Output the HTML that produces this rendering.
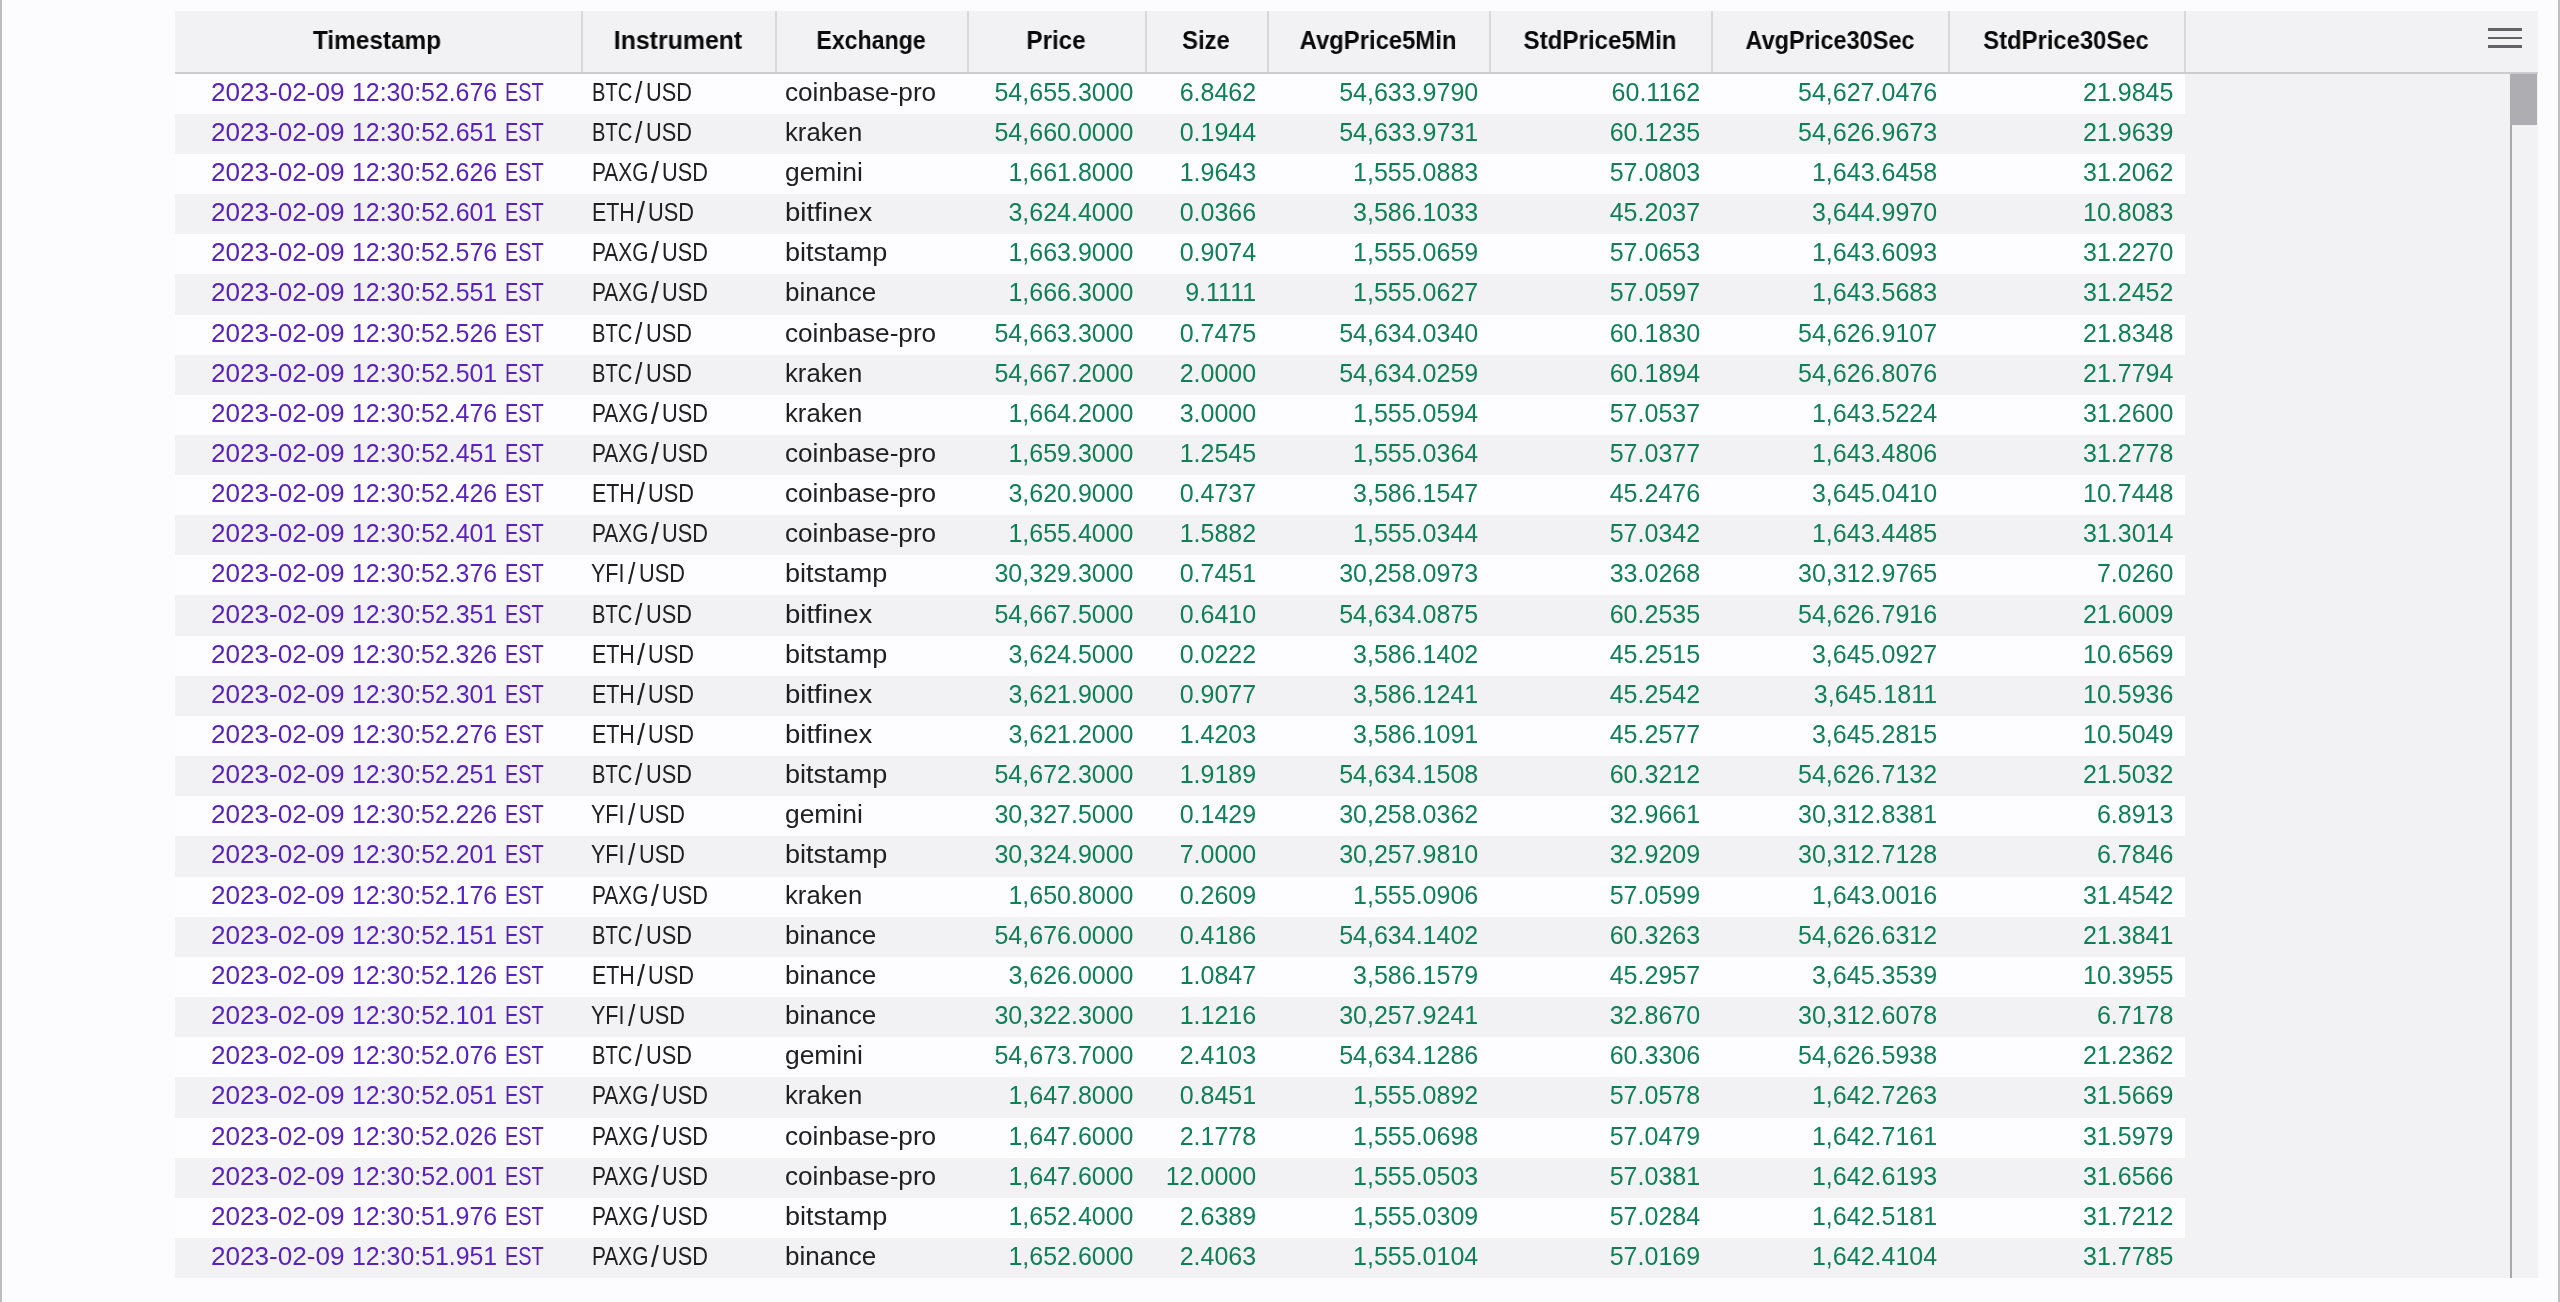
<!DOCTYPE html>
<html><head><meta charset="utf-8"><style>
*{margin:0;padding:0;box-sizing:border-box}
html,body{width:2560px;height:1302px;overflow:hidden}
body{background:#fcfbfd;font-family:"Liberation Sans",sans-serif;position:relative}
.a{position:absolute}
.hd{position:absolute;will-change:transform;top:28.3px;font-weight:bold;font-size:25px;color:#0a0a0a;line-height:25px;white-space:nowrap}
.r{position:absolute;will-change:transform;left:175px;width:2010.4px;height:40.15px}
.c{position:absolute;top:6px;font-size:25px;line-height:25px;white-space:nowrap;transform-origin:0 0}
.t{color:#5822c2}
.s{color:#202020}
.n{color:#0f7f55;transform-origin:100% 0}
.hl{position:absolute;top:11px;width:2px;height:61px;background:#d8d7d9}
.hb{position:absolute;left:0;width:34px;height:2.3px;background:#636266}
</style></head><body>
<div class="a" style="left:0;top:0;width:2px;height:1302px;background:#bcbdbc"></div>
<div class="a" style="left:2px;top:0;width:1px;height:1302px;background:#ffffff"></div>
<div class="a" style="left:2558px;top:0;width:2px;height:1302px;background:#bdbebd"></div>
<div class="a" style="left:175px;top:11px;width:2362.7px;height:1266.6px;background:#f2f1f3"></div>
<div class="a" style="left:175px;top:72px;width:2362.7px;height:2px;background:#cdcbce"></div>

<div class="hd" style="left:377.45px;transform:translateX(-50%) scaleX(0.9744)">Timestamp</div>
<div class="hd" style="left:677.80px;transform:translateX(-50%) scaleX(0.9948)">Instrument</div>
<div class="hd" style="left:871.00px;transform:translateX(-50%) scaleX(0.9244)">Exchange</div>
<div class="hd" style="left:1055.90px;transform:translateX(-50%) scaleX(0.9688)">Price</div>
<div class="hd" style="left:1206.00px;transform:translateX(-50%) scaleX(0.9552)">Size</div>
<div class="hd" style="left:1378.35px;transform:translateX(-50%) scaleX(0.9536)">AvgPrice5Min</div>
<div class="hd" style="left:1600.35px;transform:translateX(-50%) scaleX(0.9664)">StdPrice5Min</div>
<div class="hd" style="left:1829.80px;transform:translateX(-50%) scaleX(0.9408)">AvgPrice30Sec</div>
<div class="hd" style="left:2066.45px;transform:translateX(-50%) scaleX(0.9528)">StdPrice30Sec</div>
<div class="hl" style="left:580.50px"></div>
<div class="hl" style="left:774.70px"></div>
<div class="hl" style="left:966.90px"></div>
<div class="hl" style="left:1144.50px"></div>
<div class="hl" style="left:1267.10px"></div>
<div class="hl" style="left:1489.20px"></div>
<div class="hl" style="left:1711.10px"></div>
<div class="hl" style="left:1948.10px"></div>
<div class="hl" style="left:2184.40px"></div>
<div class="r" style="top:73.600px;background:#fdfcfe"><span class="c t" style="left:35.79px;transform:scaleX(1.0446)">2023-02-09</span><span class="c t" style="left:177.14px;transform:scaleX(0.9937)">12:30:52.676</span><span class="c t" style="left:330.30px;transform:scaleX(0.7978)">EST</span><span class="c s" style="left:416.89px;transform:scaleX(0.8043)">BTC</span><span class="c s" style="left:460.20px;transform-origin:0 12.4px;transform:scale(1.0618,1.2170)">/</span><span class="c s" style="left:471.27px;transform:scaleX(0.8704)">USD</span><span class="c s" style="left:610.42px;transform:scaleX(1.0458)">coinbase-pro</span><span class="c n" style="right:1051.90px">54,655.3000</span><span class="c n" style="right:929.30px">6.8462</span><span class="c n" style="right:707.20px">54,633.9790</span><span class="c n" style="right:485.30px">60.1162</span><span class="c n" style="right:248.30px">54,627.0476</span><span class="c n" style="right:12.00px">21.9845</span></div>
<div class="r" style="top:113.750px;background:#f2f1f3"><span class="c t" style="left:35.79px;transform:scaleX(1.0446)">2023-02-09</span><span class="c t" style="left:177.14px;transform:scaleX(0.9946)">12:30:52.651</span><span class="c t" style="left:330.30px;transform:scaleX(0.7978)">EST</span><span class="c s" style="left:416.89px;transform:scaleX(0.8043)">BTC</span><span class="c s" style="left:460.20px;transform-origin:0 12.4px;transform:scale(1.0618,1.2170)">/</span><span class="c s" style="left:471.27px;transform:scaleX(0.8704)">USD</span><span class="c s" style="left:610.33px;transform:scaleX(1.0286)">kraken</span><span class="c n" style="right:1051.90px">54,660.0000</span><span class="c n" style="right:929.30px">0.1944</span><span class="c n" style="right:707.20px">54,633.9731</span><span class="c n" style="right:485.30px">60.1235</span><span class="c n" style="right:248.30px">54,626.9673</span><span class="c n" style="right:12.00px">21.9639</span></div>
<div class="r" style="top:153.900px;background:#fdfcfe"><span class="c t" style="left:35.79px;transform:scaleX(1.0446)">2023-02-09</span><span class="c t" style="left:177.14px;transform:scaleX(0.9937)">12:30:52.626</span><span class="c t" style="left:330.30px;transform:scaleX(0.7978)">EST</span><span class="c s" style="left:416.83px;transform:scaleX(0.8345)">PAXG</span><span class="c s" style="left:475.70px;transform-origin:0 12.4px;transform:scale(1.1345,1.2170)">/</span><span class="c s" style="left:486.87px;transform:scaleX(0.8704)">USD</span><span class="c s" style="left:610.24px;transform:scaleX(1.0563)">gemini</span><span class="c n" style="right:1051.90px">1,661.8000</span><span class="c n" style="right:929.30px">1.9643</span><span class="c n" style="right:707.20px">1,555.0883</span><span class="c n" style="right:485.30px">57.0803</span><span class="c n" style="right:248.30px">1,643.6458</span><span class="c n" style="right:12.00px">31.2062</span></div>
<div class="r" style="top:194.050px;background:#f2f1f3"><span class="c t" style="left:35.79px;transform:scaleX(1.0446)">2023-02-09</span><span class="c t" style="left:177.14px;transform:scaleX(0.9946)">12:30:52.601</span><span class="c t" style="left:330.30px;transform:scaleX(0.7978)">EST</span><span class="c s" style="left:416.79px;transform:scaleX(0.8565)">ETH</span><span class="c s" style="left:462.30px;transform-origin:0 12.4px;transform:scale(1.1491,1.2170)">/</span><span class="c s" style="left:473.46px;transform:scaleX(0.8724)">USD</span><span class="c s" style="left:609.71px;transform:scaleX(1.1011)">bitfinex</span><span class="c n" style="right:1051.90px">3,624.4000</span><span class="c n" style="right:929.30px">0.0366</span><span class="c n" style="right:707.20px">3,586.1033</span><span class="c n" style="right:485.30px">45.2037</span><span class="c n" style="right:248.30px">3,644.9970</span><span class="c n" style="right:12.00px">10.8083</span></div>
<div class="r" style="top:234.200px;background:#fdfcfe"><span class="c t" style="left:35.79px;transform:scaleX(1.0446)">2023-02-09</span><span class="c t" style="left:177.14px;transform:scaleX(0.9937)">12:30:52.576</span><span class="c t" style="left:330.30px;transform:scaleX(0.7978)">EST</span><span class="c s" style="left:416.83px;transform:scaleX(0.8345)">PAXG</span><span class="c s" style="left:475.70px;transform-origin:0 12.4px;transform:scale(1.1345,1.2170)">/</span><span class="c s" style="left:486.87px;transform:scaleX(0.8704)">USD</span><span class="c s" style="left:610.34px;transform:scaleX(1.0819)">bitstamp</span><span class="c n" style="right:1051.90px">1,663.9000</span><span class="c n" style="right:929.30px">0.9074</span><span class="c n" style="right:707.20px">1,555.0659</span><span class="c n" style="right:485.30px">57.0653</span><span class="c n" style="right:248.30px">1,643.6093</span><span class="c n" style="right:12.00px">31.2270</span></div>
<div class="r" style="top:274.350px;background:#f2f1f3"><span class="c t" style="left:35.79px;transform:scaleX(1.0446)">2023-02-09</span><span class="c t" style="left:177.14px;transform:scaleX(0.9946)">12:30:52.551</span><span class="c t" style="left:330.30px;transform:scaleX(0.7978)">EST</span><span class="c s" style="left:416.83px;transform:scaleX(0.8345)">PAXG</span><span class="c s" style="left:475.70px;transform-origin:0 12.4px;transform:scale(1.1345,1.2170)">/</span><span class="c s" style="left:486.87px;transform:scaleX(0.8704)">USD</span><span class="c s" style="left:610.41px;transform:scaleX(1.0419)">binance</span><span class="c n" style="right:1051.90px">1,666.3000</span><span class="c n" style="right:929.30px">9.1111</span><span class="c n" style="right:707.20px">1,555.0627</span><span class="c n" style="right:485.30px">57.0597</span><span class="c n" style="right:248.30px">1,643.5683</span><span class="c n" style="right:12.00px">31.2452</span></div>
<div class="r" style="top:314.500px;background:#fdfcfe"><span class="c t" style="left:35.79px;transform:scaleX(1.0446)">2023-02-09</span><span class="c t" style="left:177.14px;transform:scaleX(0.9937)">12:30:52.526</span><span class="c t" style="left:330.30px;transform:scaleX(0.7978)">EST</span><span class="c s" style="left:416.89px;transform:scaleX(0.8043)">BTC</span><span class="c s" style="left:460.20px;transform-origin:0 12.4px;transform:scale(1.0618,1.2170)">/</span><span class="c s" style="left:471.27px;transform:scaleX(0.8704)">USD</span><span class="c s" style="left:610.42px;transform:scaleX(1.0458)">coinbase-pro</span><span class="c n" style="right:1051.90px">54,663.3000</span><span class="c n" style="right:929.30px">0.7475</span><span class="c n" style="right:707.20px">54,634.0340</span><span class="c n" style="right:485.30px">60.1830</span><span class="c n" style="right:248.30px">54,626.9107</span><span class="c n" style="right:12.00px">21.8348</span></div>
<div class="r" style="top:354.650px;background:#f2f1f3"><span class="c t" style="left:35.79px;transform:scaleX(1.0446)">2023-02-09</span><span class="c t" style="left:177.14px;transform:scaleX(0.9946)">12:30:52.501</span><span class="c t" style="left:330.30px;transform:scaleX(0.7978)">EST</span><span class="c s" style="left:416.89px;transform:scaleX(0.8043)">BTC</span><span class="c s" style="left:460.20px;transform-origin:0 12.4px;transform:scale(1.0618,1.2170)">/</span><span class="c s" style="left:471.27px;transform:scaleX(0.8704)">USD</span><span class="c s" style="left:610.33px;transform:scaleX(1.0286)">kraken</span><span class="c n" style="right:1051.90px">54,667.2000</span><span class="c n" style="right:929.30px">2.0000</span><span class="c n" style="right:707.20px">54,634.0259</span><span class="c n" style="right:485.30px">60.1894</span><span class="c n" style="right:248.30px">54,626.8076</span><span class="c n" style="right:12.00px">21.7794</span></div>
<div class="r" style="top:394.800px;background:#fdfcfe"><span class="c t" style="left:35.79px;transform:scaleX(1.0446)">2023-02-09</span><span class="c t" style="left:177.14px;transform:scaleX(0.9937)">12:30:52.476</span><span class="c t" style="left:330.30px;transform:scaleX(0.7978)">EST</span><span class="c s" style="left:416.83px;transform:scaleX(0.8345)">PAXG</span><span class="c s" style="left:475.70px;transform-origin:0 12.4px;transform:scale(1.1345,1.2170)">/</span><span class="c s" style="left:486.87px;transform:scaleX(0.8704)">USD</span><span class="c s" style="left:610.33px;transform:scaleX(1.0286)">kraken</span><span class="c n" style="right:1051.90px">1,664.2000</span><span class="c n" style="right:929.30px">3.0000</span><span class="c n" style="right:707.20px">1,555.0594</span><span class="c n" style="right:485.30px">57.0537</span><span class="c n" style="right:248.30px">1,643.5224</span><span class="c n" style="right:12.00px">31.2600</span></div>
<div class="r" style="top:434.950px;background:#f2f1f3"><span class="c t" style="left:35.79px;transform:scaleX(1.0446)">2023-02-09</span><span class="c t" style="left:177.14px;transform:scaleX(0.9946)">12:30:52.451</span><span class="c t" style="left:330.30px;transform:scaleX(0.7978)">EST</span><span class="c s" style="left:416.83px;transform:scaleX(0.8345)">PAXG</span><span class="c s" style="left:475.70px;transform-origin:0 12.4px;transform:scale(1.1345,1.2170)">/</span><span class="c s" style="left:486.87px;transform:scaleX(0.8704)">USD</span><span class="c s" style="left:610.42px;transform:scaleX(1.0458)">coinbase-pro</span><span class="c n" style="right:1051.90px">1,659.3000</span><span class="c n" style="right:929.30px">1.2545</span><span class="c n" style="right:707.20px">1,555.0364</span><span class="c n" style="right:485.30px">57.0377</span><span class="c n" style="right:248.30px">1,643.4806</span><span class="c n" style="right:12.00px">31.2778</span></div>
<div class="r" style="top:475.100px;background:#fdfcfe"><span class="c t" style="left:35.79px;transform:scaleX(1.0446)">2023-02-09</span><span class="c t" style="left:177.14px;transform:scaleX(0.9937)">12:30:52.426</span><span class="c t" style="left:330.30px;transform:scaleX(0.7978)">EST</span><span class="c s" style="left:416.79px;transform:scaleX(0.8565)">ETH</span><span class="c s" style="left:462.30px;transform-origin:0 12.4px;transform:scale(1.1491,1.2170)">/</span><span class="c s" style="left:473.46px;transform:scaleX(0.8724)">USD</span><span class="c s" style="left:610.42px;transform:scaleX(1.0458)">coinbase-pro</span><span class="c n" style="right:1051.90px">3,620.9000</span><span class="c n" style="right:929.30px">0.4737</span><span class="c n" style="right:707.20px">3,586.1547</span><span class="c n" style="right:485.30px">45.2476</span><span class="c n" style="right:248.30px">3,645.0410</span><span class="c n" style="right:12.00px">10.7448</span></div>
<div class="r" style="top:515.250px;background:#f2f1f3"><span class="c t" style="left:35.79px;transform:scaleX(1.0446)">2023-02-09</span><span class="c t" style="left:177.14px;transform:scaleX(0.9946)">12:30:52.401</span><span class="c t" style="left:330.30px;transform:scaleX(0.7978)">EST</span><span class="c s" style="left:416.83px;transform:scaleX(0.8345)">PAXG</span><span class="c s" style="left:475.70px;transform-origin:0 12.4px;transform:scale(1.1345,1.2170)">/</span><span class="c s" style="left:486.87px;transform:scaleX(0.8704)">USD</span><span class="c s" style="left:610.42px;transform:scaleX(1.0458)">coinbase-pro</span><span class="c n" style="right:1051.90px">1,655.4000</span><span class="c n" style="right:929.30px">1.5882</span><span class="c n" style="right:707.20px">1,555.0344</span><span class="c n" style="right:485.30px">57.0342</span><span class="c n" style="right:248.30px">1,643.4485</span><span class="c n" style="right:12.00px">31.3014</span></div>
<div class="r" style="top:555.400px;background:#fdfcfe"><span class="c t" style="left:35.79px;transform:scaleX(1.0446)">2023-02-09</span><span class="c t" style="left:177.14px;transform:scaleX(0.9937)">12:30:52.376</span><span class="c t" style="left:330.30px;transform:scaleX(0.7978)">EST</span><span class="c s" style="left:415.76px;transform:scaleX(0.8611)">YFI</span><span class="c s" style="left:452.80px;transform-origin:0 12.4px;transform:scale(1.0618,1.2170)">/</span><span class="c s" style="left:463.77px;transform:scaleX(0.8704)">USD</span><span class="c s" style="left:610.34px;transform:scaleX(1.0819)">bitstamp</span><span class="c n" style="right:1051.90px">30,329.3000</span><span class="c n" style="right:929.30px">0.7451</span><span class="c n" style="right:707.20px">30,258.0973</span><span class="c n" style="right:485.30px">33.0268</span><span class="c n" style="right:248.30px">30,312.9765</span><span class="c n" style="right:12.00px">7.0260</span></div>
<div class="r" style="top:595.550px;background:#f2f1f3"><span class="c t" style="left:35.79px;transform:scaleX(1.0446)">2023-02-09</span><span class="c t" style="left:177.14px;transform:scaleX(0.9946)">12:30:52.351</span><span class="c t" style="left:330.30px;transform:scaleX(0.7978)">EST</span><span class="c s" style="left:416.89px;transform:scaleX(0.8043)">BTC</span><span class="c s" style="left:460.20px;transform-origin:0 12.4px;transform:scale(1.0618,1.2170)">/</span><span class="c s" style="left:471.27px;transform:scaleX(0.8704)">USD</span><span class="c s" style="left:609.71px;transform:scaleX(1.1011)">bitfinex</span><span class="c n" style="right:1051.90px">54,667.5000</span><span class="c n" style="right:929.30px">0.6410</span><span class="c n" style="right:707.20px">54,634.0875</span><span class="c n" style="right:485.30px">60.2535</span><span class="c n" style="right:248.30px">54,626.7916</span><span class="c n" style="right:12.00px">21.6009</span></div>
<div class="r" style="top:635.700px;background:#fdfcfe"><span class="c t" style="left:35.79px;transform:scaleX(1.0446)">2023-02-09</span><span class="c t" style="left:177.14px;transform:scaleX(0.9937)">12:30:52.326</span><span class="c t" style="left:330.30px;transform:scaleX(0.7978)">EST</span><span class="c s" style="left:416.79px;transform:scaleX(0.8565)">ETH</span><span class="c s" style="left:462.30px;transform-origin:0 12.4px;transform:scale(1.1491,1.2170)">/</span><span class="c s" style="left:473.46px;transform:scaleX(0.8724)">USD</span><span class="c s" style="left:610.34px;transform:scaleX(1.0819)">bitstamp</span><span class="c n" style="right:1051.90px">3,624.5000</span><span class="c n" style="right:929.30px">0.0222</span><span class="c n" style="right:707.20px">3,586.1402</span><span class="c n" style="right:485.30px">45.2515</span><span class="c n" style="right:248.30px">3,645.0927</span><span class="c n" style="right:12.00px">10.6569</span></div>
<div class="r" style="top:675.850px;background:#f2f1f3"><span class="c t" style="left:35.79px;transform:scaleX(1.0446)">2023-02-09</span><span class="c t" style="left:177.14px;transform:scaleX(0.9946)">12:30:52.301</span><span class="c t" style="left:330.30px;transform:scaleX(0.7978)">EST</span><span class="c s" style="left:416.79px;transform:scaleX(0.8565)">ETH</span><span class="c s" style="left:462.30px;transform-origin:0 12.4px;transform:scale(1.1491,1.2170)">/</span><span class="c s" style="left:473.46px;transform:scaleX(0.8724)">USD</span><span class="c s" style="left:609.71px;transform:scaleX(1.1011)">bitfinex</span><span class="c n" style="right:1051.90px">3,621.9000</span><span class="c n" style="right:929.30px">0.9077</span><span class="c n" style="right:707.20px">3,586.1241</span><span class="c n" style="right:485.30px">45.2542</span><span class="c n" style="right:248.30px">3,645.1811</span><span class="c n" style="right:12.00px">10.5936</span></div>
<div class="r" style="top:716.000px;background:#fdfcfe"><span class="c t" style="left:35.79px;transform:scaleX(1.0446)">2023-02-09</span><span class="c t" style="left:177.14px;transform:scaleX(0.9937)">12:30:52.276</span><span class="c t" style="left:330.30px;transform:scaleX(0.7978)">EST</span><span class="c s" style="left:416.79px;transform:scaleX(0.8565)">ETH</span><span class="c s" style="left:462.30px;transform-origin:0 12.4px;transform:scale(1.1491,1.2170)">/</span><span class="c s" style="left:473.46px;transform:scaleX(0.8724)">USD</span><span class="c s" style="left:609.71px;transform:scaleX(1.1011)">bitfinex</span><span class="c n" style="right:1051.90px">3,621.2000</span><span class="c n" style="right:929.30px">1.4203</span><span class="c n" style="right:707.20px">3,586.1091</span><span class="c n" style="right:485.30px">45.2577</span><span class="c n" style="right:248.30px">3,645.2815</span><span class="c n" style="right:12.00px">10.5049</span></div>
<div class="r" style="top:756.150px;background:#f2f1f3"><span class="c t" style="left:35.79px;transform:scaleX(1.0446)">2023-02-09</span><span class="c t" style="left:177.14px;transform:scaleX(0.9946)">12:30:52.251</span><span class="c t" style="left:330.30px;transform:scaleX(0.7978)">EST</span><span class="c s" style="left:416.89px;transform:scaleX(0.8043)">BTC</span><span class="c s" style="left:460.20px;transform-origin:0 12.4px;transform:scale(1.0618,1.2170)">/</span><span class="c s" style="left:471.27px;transform:scaleX(0.8704)">USD</span><span class="c s" style="left:610.34px;transform:scaleX(1.0819)">bitstamp</span><span class="c n" style="right:1051.90px">54,672.3000</span><span class="c n" style="right:929.30px">1.9189</span><span class="c n" style="right:707.20px">54,634.1508</span><span class="c n" style="right:485.30px">60.3212</span><span class="c n" style="right:248.30px">54,626.7132</span><span class="c n" style="right:12.00px">21.5032</span></div>
<div class="r" style="top:796.300px;background:#fdfcfe"><span class="c t" style="left:35.79px;transform:scaleX(1.0446)">2023-02-09</span><span class="c t" style="left:177.14px;transform:scaleX(0.9937)">12:30:52.226</span><span class="c t" style="left:330.30px;transform:scaleX(0.7978)">EST</span><span class="c s" style="left:415.76px;transform:scaleX(0.8611)">YFI</span><span class="c s" style="left:452.80px;transform-origin:0 12.4px;transform:scale(1.0618,1.2170)">/</span><span class="c s" style="left:463.77px;transform:scaleX(0.8704)">USD</span><span class="c s" style="left:610.24px;transform:scaleX(1.0563)">gemini</span><span class="c n" style="right:1051.90px">30,327.5000</span><span class="c n" style="right:929.30px">0.1429</span><span class="c n" style="right:707.20px">30,258.0362</span><span class="c n" style="right:485.30px">32.9661</span><span class="c n" style="right:248.30px">30,312.8381</span><span class="c n" style="right:12.00px">6.8913</span></div>
<div class="r" style="top:836.450px;background:#f2f1f3"><span class="c t" style="left:35.79px;transform:scaleX(1.0446)">2023-02-09</span><span class="c t" style="left:177.14px;transform:scaleX(0.9946)">12:30:52.201</span><span class="c t" style="left:330.30px;transform:scaleX(0.7978)">EST</span><span class="c s" style="left:415.76px;transform:scaleX(0.8611)">YFI</span><span class="c s" style="left:452.80px;transform-origin:0 12.4px;transform:scale(1.0618,1.2170)">/</span><span class="c s" style="left:463.77px;transform:scaleX(0.8704)">USD</span><span class="c s" style="left:610.34px;transform:scaleX(1.0819)">bitstamp</span><span class="c n" style="right:1051.90px">30,324.9000</span><span class="c n" style="right:929.30px">7.0000</span><span class="c n" style="right:707.20px">30,257.9810</span><span class="c n" style="right:485.30px">32.9209</span><span class="c n" style="right:248.30px">30,312.7128</span><span class="c n" style="right:12.00px">6.7846</span></div>
<div class="r" style="top:876.600px;background:#fdfcfe"><span class="c t" style="left:35.79px;transform:scaleX(1.0446)">2023-02-09</span><span class="c t" style="left:177.14px;transform:scaleX(0.9937)">12:30:52.176</span><span class="c t" style="left:330.30px;transform:scaleX(0.7978)">EST</span><span class="c s" style="left:416.83px;transform:scaleX(0.8345)">PAXG</span><span class="c s" style="left:475.70px;transform-origin:0 12.4px;transform:scale(1.1345,1.2170)">/</span><span class="c s" style="left:486.87px;transform:scaleX(0.8704)">USD</span><span class="c s" style="left:610.33px;transform:scaleX(1.0286)">kraken</span><span class="c n" style="right:1051.90px">1,650.8000</span><span class="c n" style="right:929.30px">0.2609</span><span class="c n" style="right:707.20px">1,555.0906</span><span class="c n" style="right:485.30px">57.0599</span><span class="c n" style="right:248.30px">1,643.0016</span><span class="c n" style="right:12.00px">31.4542</span></div>
<div class="r" style="top:916.750px;background:#f2f1f3"><span class="c t" style="left:35.79px;transform:scaleX(1.0446)">2023-02-09</span><span class="c t" style="left:177.14px;transform:scaleX(0.9946)">12:30:52.151</span><span class="c t" style="left:330.30px;transform:scaleX(0.7978)">EST</span><span class="c s" style="left:416.89px;transform:scaleX(0.8043)">BTC</span><span class="c s" style="left:460.20px;transform-origin:0 12.4px;transform:scale(1.0618,1.2170)">/</span><span class="c s" style="left:471.27px;transform:scaleX(0.8704)">USD</span><span class="c s" style="left:610.41px;transform:scaleX(1.0419)">binance</span><span class="c n" style="right:1051.90px">54,676.0000</span><span class="c n" style="right:929.30px">0.4186</span><span class="c n" style="right:707.20px">54,634.1402</span><span class="c n" style="right:485.30px">60.3263</span><span class="c n" style="right:248.30px">54,626.6312</span><span class="c n" style="right:12.00px">21.3841</span></div>
<div class="r" style="top:956.900px;background:#fdfcfe"><span class="c t" style="left:35.79px;transform:scaleX(1.0446)">2023-02-09</span><span class="c t" style="left:177.14px;transform:scaleX(0.9937)">12:30:52.126</span><span class="c t" style="left:330.30px;transform:scaleX(0.7978)">EST</span><span class="c s" style="left:416.79px;transform:scaleX(0.8565)">ETH</span><span class="c s" style="left:462.30px;transform-origin:0 12.4px;transform:scale(1.1491,1.2170)">/</span><span class="c s" style="left:473.46px;transform:scaleX(0.8724)">USD</span><span class="c s" style="left:610.41px;transform:scaleX(1.0419)">binance</span><span class="c n" style="right:1051.90px">3,626.0000</span><span class="c n" style="right:929.30px">1.0847</span><span class="c n" style="right:707.20px">3,586.1579</span><span class="c n" style="right:485.30px">45.2957</span><span class="c n" style="right:248.30px">3,645.3539</span><span class="c n" style="right:12.00px">10.3955</span></div>
<div class="r" style="top:997.050px;background:#f2f1f3"><span class="c t" style="left:35.79px;transform:scaleX(1.0446)">2023-02-09</span><span class="c t" style="left:177.14px;transform:scaleX(0.9946)">12:30:52.101</span><span class="c t" style="left:330.30px;transform:scaleX(0.7978)">EST</span><span class="c s" style="left:415.76px;transform:scaleX(0.8611)">YFI</span><span class="c s" style="left:452.80px;transform-origin:0 12.4px;transform:scale(1.0618,1.2170)">/</span><span class="c s" style="left:463.77px;transform:scaleX(0.8704)">USD</span><span class="c s" style="left:610.41px;transform:scaleX(1.0419)">binance</span><span class="c n" style="right:1051.90px">30,322.3000</span><span class="c n" style="right:929.30px">1.1216</span><span class="c n" style="right:707.20px">30,257.9241</span><span class="c n" style="right:485.30px">32.8670</span><span class="c n" style="right:248.30px">30,312.6078</span><span class="c n" style="right:12.00px">6.7178</span></div>
<div class="r" style="top:1037.200px;background:#fdfcfe"><span class="c t" style="left:35.79px;transform:scaleX(1.0446)">2023-02-09</span><span class="c t" style="left:177.14px;transform:scaleX(0.9937)">12:30:52.076</span><span class="c t" style="left:330.30px;transform:scaleX(0.7978)">EST</span><span class="c s" style="left:416.89px;transform:scaleX(0.8043)">BTC</span><span class="c s" style="left:460.20px;transform-origin:0 12.4px;transform:scale(1.0618,1.2170)">/</span><span class="c s" style="left:471.27px;transform:scaleX(0.8704)">USD</span><span class="c s" style="left:610.24px;transform:scaleX(1.0563)">gemini</span><span class="c n" style="right:1051.90px">54,673.7000</span><span class="c n" style="right:929.30px">2.4103</span><span class="c n" style="right:707.20px">54,634.1286</span><span class="c n" style="right:485.30px">60.3306</span><span class="c n" style="right:248.30px">54,626.5938</span><span class="c n" style="right:12.00px">21.2362</span></div>
<div class="r" style="top:1077.350px;background:#f2f1f3"><span class="c t" style="left:35.79px;transform:scaleX(1.0446)">2023-02-09</span><span class="c t" style="left:177.14px;transform:scaleX(0.9946)">12:30:52.051</span><span class="c t" style="left:330.30px;transform:scaleX(0.7978)">EST</span><span class="c s" style="left:416.83px;transform:scaleX(0.8345)">PAXG</span><span class="c s" style="left:475.70px;transform-origin:0 12.4px;transform:scale(1.1345,1.2170)">/</span><span class="c s" style="left:486.87px;transform:scaleX(0.8704)">USD</span><span class="c s" style="left:610.33px;transform:scaleX(1.0286)">kraken</span><span class="c n" style="right:1051.90px">1,647.8000</span><span class="c n" style="right:929.30px">0.8451</span><span class="c n" style="right:707.20px">1,555.0892</span><span class="c n" style="right:485.30px">57.0578</span><span class="c n" style="right:248.30px">1,642.7263</span><span class="c n" style="right:12.00px">31.5669</span></div>
<div class="r" style="top:1117.500px;background:#fdfcfe"><span class="c t" style="left:35.79px;transform:scaleX(1.0446)">2023-02-09</span><span class="c t" style="left:177.14px;transform:scaleX(0.9937)">12:30:52.026</span><span class="c t" style="left:330.30px;transform:scaleX(0.7978)">EST</span><span class="c s" style="left:416.83px;transform:scaleX(0.8345)">PAXG</span><span class="c s" style="left:475.70px;transform-origin:0 12.4px;transform:scale(1.1345,1.2170)">/</span><span class="c s" style="left:486.87px;transform:scaleX(0.8704)">USD</span><span class="c s" style="left:610.42px;transform:scaleX(1.0458)">coinbase-pro</span><span class="c n" style="right:1051.90px">1,647.6000</span><span class="c n" style="right:929.30px">2.1778</span><span class="c n" style="right:707.20px">1,555.0698</span><span class="c n" style="right:485.30px">57.0479</span><span class="c n" style="right:248.30px">1,642.7161</span><span class="c n" style="right:12.00px">31.5979</span></div>
<div class="r" style="top:1157.650px;background:#f2f1f3"><span class="c t" style="left:35.79px;transform:scaleX(1.0446)">2023-02-09</span><span class="c t" style="left:177.14px;transform:scaleX(0.9946)">12:30:52.001</span><span class="c t" style="left:330.30px;transform:scaleX(0.7978)">EST</span><span class="c s" style="left:416.83px;transform:scaleX(0.8345)">PAXG</span><span class="c s" style="left:475.70px;transform-origin:0 12.4px;transform:scale(1.1345,1.2170)">/</span><span class="c s" style="left:486.87px;transform:scaleX(0.8704)">USD</span><span class="c s" style="left:610.42px;transform:scaleX(1.0458)">coinbase-pro</span><span class="c n" style="right:1051.90px">1,647.6000</span><span class="c n" style="right:929.30px">12.0000</span><span class="c n" style="right:707.20px">1,555.0503</span><span class="c n" style="right:485.30px">57.0381</span><span class="c n" style="right:248.30px">1,642.6193</span><span class="c n" style="right:12.00px">31.6566</span></div>
<div class="r" style="top:1197.800px;background:#fdfcfe"><span class="c t" style="left:35.79px;transform:scaleX(1.0446)">2023-02-09</span><span class="c t" style="left:177.14px;transform:scaleX(0.9937)">12:30:51.976</span><span class="c t" style="left:330.30px;transform:scaleX(0.7978)">EST</span><span class="c s" style="left:416.83px;transform:scaleX(0.8345)">PAXG</span><span class="c s" style="left:475.70px;transform-origin:0 12.4px;transform:scale(1.1345,1.2170)">/</span><span class="c s" style="left:486.87px;transform:scaleX(0.8704)">USD</span><span class="c s" style="left:610.34px;transform:scaleX(1.0819)">bitstamp</span><span class="c n" style="right:1051.90px">1,652.4000</span><span class="c n" style="right:929.30px">2.6389</span><span class="c n" style="right:707.20px">1,555.0309</span><span class="c n" style="right:485.30px">57.0284</span><span class="c n" style="right:248.30px">1,642.5181</span><span class="c n" style="right:12.00px">31.7212</span></div>
<div class="r" style="top:1237.950px;background:#f2f1f3"><span class="c t" style="left:35.79px;transform:scaleX(1.0446)">2023-02-09</span><span class="c t" style="left:177.14px;transform:scaleX(0.9946)">12:30:51.951</span><span class="c t" style="left:330.30px;transform:scaleX(0.7978)">EST</span><span class="c s" style="left:416.83px;transform:scaleX(0.8345)">PAXG</span><span class="c s" style="left:475.70px;transform-origin:0 12.4px;transform:scale(1.1345,1.2170)">/</span><span class="c s" style="left:486.87px;transform:scaleX(0.8704)">USD</span><span class="c s" style="left:610.41px;transform:scaleX(1.0419)">binance</span><span class="c n" style="right:1051.90px">1,652.6000</span><span class="c n" style="right:929.30px">2.4063</span><span class="c n" style="right:707.20px">1,555.0104</span><span class="c n" style="right:485.30px">57.0169</span><span class="c n" style="right:248.30px">1,642.4104</span><span class="c n" style="right:12.00px">31.7785</span></div>
<div class="a" style="left:2488px;top:28.4px;width:40px;height:24px">
<div class="hb" style="top:0"></div><div class="hb" style="top:8.45px"></div><div class="hb" style="top:16.9px"></div></div>
<div class="a" style="left:2510.2px;top:73.8px;width:1.6px;height:1203.80px;background:#a9a9ad"></div>
<div class="a" style="left:2510.2px;top:73.8px;width:26.6px;height:50.8px;background:#aeadb1"></div>
</body></html>
